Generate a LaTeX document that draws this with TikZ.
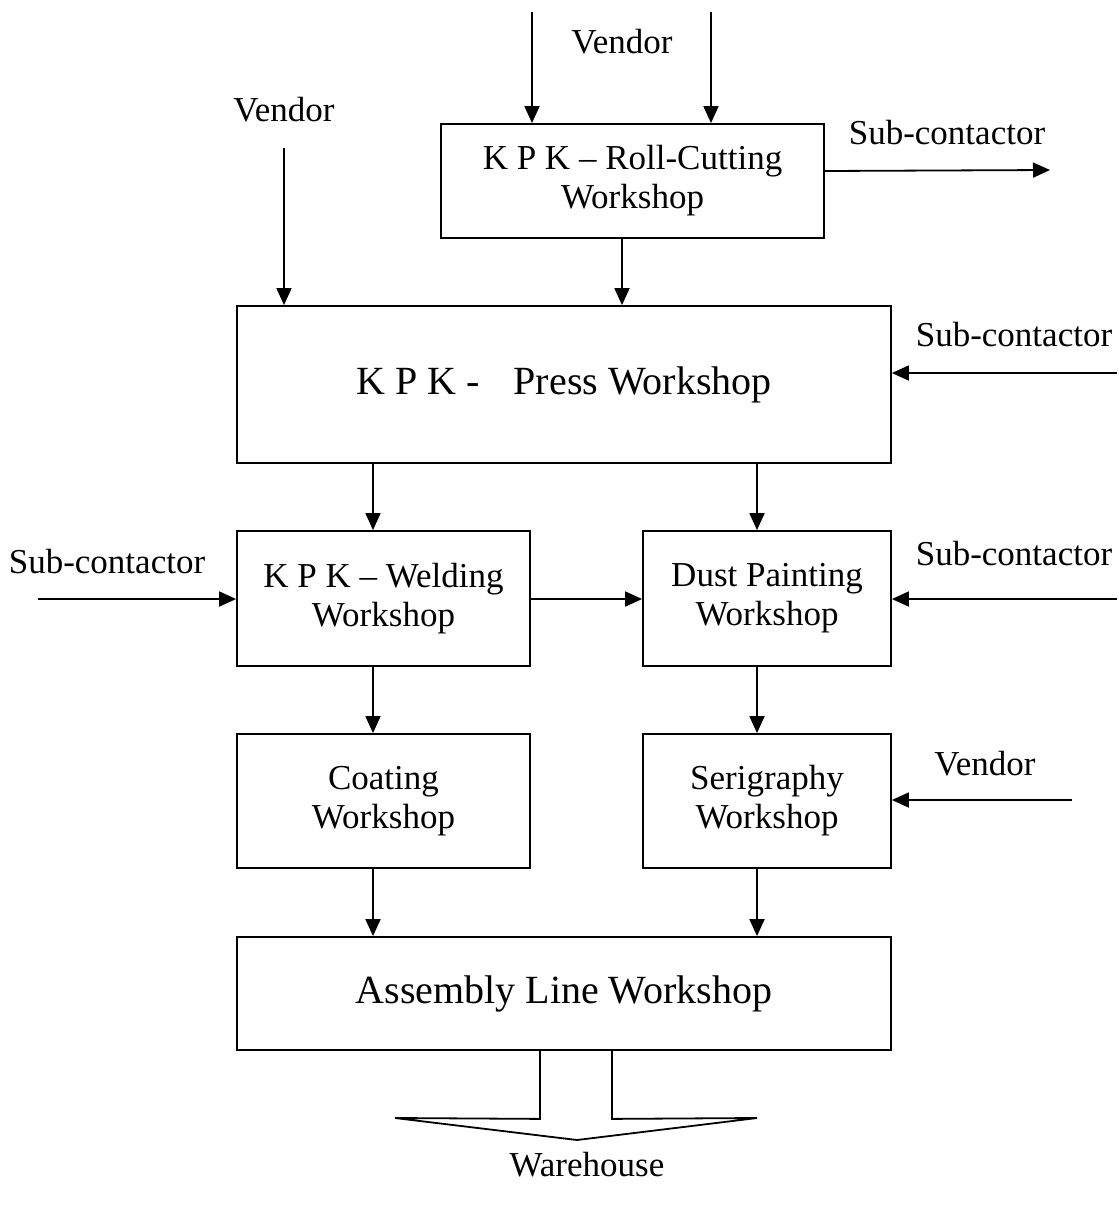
\documentclass[tikz,border=0pt]{standalone}
\usepackage{fontspec}
\setmainfont{Liberation Serif}
\usetikzlibrary{arrows.meta}
\begin{document}
\begin{tikzpicture}[x=1pt,y=-1pt,
  box/.style={draw, line width=1.8pt, align=center, inner sep=0pt,
    font=\fontsize{35}{39}\selectfont},
  bigbox/.style={box, font=\fontsize{40}{44}\selectfont},
  lbl/.style={inner sep=0pt, font=\fontsize{35}{39}\selectfont},
  arr/.style={line width=1.8pt, -{Triangle[length=17pt,width=15pt]}},
  line width=1.8pt]
\useasboundingbox (0,0) rectangle (1119,1208);

% workshops
\node[box, minimum width=383pt, minimum height=114pt] (roll) at (632.5,181)
  {K P K -- Roll-Cutting\\Workshop};
\node[bigbox, minimum width=654pt, minimum height=157pt] (press) at (564,384.5)
  {K P K -\hspace{0.6em} Press Workshop};
\node[box, minimum width=293pt, minimum height=135pt] (weld) at (383.5,598.5)
  {K P K -- Welding\\Workshop};
\node[box, minimum width=248pt, minimum height=135pt] (dust) at (767,598.5)
  {Dust Painting\\Workshop};
\node[box, minimum width=293pt, minimum height=134pt] (coat) at (383.5,801)
  {Coating\\Workshop};
\node[box, minimum width=248pt, minimum height=134pt] (seri) at (767,801)
  {Serigraphy\\Workshop};
\node[bigbox, minimum width=654pt, minimum height=113pt] (asm) at (564,993.5)
  {Assembly Line Workshop};

% outside labels
\node[lbl] (vtop) at (622,42) {Vendor};
\node[lbl] (vleft) at (284,110) {Vendor};
\node[lbl] (stop) at (947,133) {Sub-contactor};
\node[lbl] (spress) at (1014,335) {Sub-contactor};
\node[lbl] (sleft) at (107,562) {Sub-contactor};
\node[lbl] (sdust) at (1014,554) {Sub-contactor};
\node[lbl] (vseri) at (985,764) {Vendor};
\node[lbl] (wh) at (587,1165) {Warehouse};

% free ends of the outside flows
\coordinate (in1) at (532,12);
\coordinate (in2) at (711,12);
\coordinate (in3) at (284,148);
\coordinate (out1) at (1050,170);
\coordinate (in4) at (1117,373);
\coordinate (in5) at (38,599);
\coordinate (in6) at (1117,599);
\coordinate (in7) at (1072,800);

% inputs from vendors and sub-contractors
\draw[arr] (in1) -- (in1 |- roll.north);
\draw[arr] (in2) -- (in2 |- roll.north);
\draw[arr] (in3) -- (in3 |- press.north);
\draw[arr] ([yshift=10pt]roll.east) -- (out1);
\draw[arr] (in4) -- (in4 -| press.east);
\draw[arr] (in5) -- (in5 -| weld.west);
\draw[arr] (in6) -- (in6 -| dust.east);
\draw[arr] (in7) -- (in7 -| seri.east);

% internal flows
\draw[arr] ([xshift=-10.5pt]roll.south) -- ([xshift=-10.5pt]roll.south |- press.north);
\draw[arr] ([xshift=-10.5pt]weld.north |- press.south) -- ([xshift=-10.5pt]weld.north);
\draw[arr] ([xshift=-10pt]dust.north |- press.south) -- ([xshift=-10pt]dust.north);
\draw[arr] ([yshift=-0.5pt]weld.east) -- ([yshift=-0.5pt]dust.west);
\draw[arr] ([xshift=-10.5pt]weld.south) -- ([xshift=-10.5pt]coat.north);
\draw[arr] ([xshift=-10pt]dust.south) -- ([xshift=-10pt]seri.north);
\draw[arr] ([xshift=-10.5pt]coat.south) -- ([xshift=-10.5pt]coat.south |- asm.north);
\draw[arr] ([xshift=-10pt]seri.south) -- ([xshift=-10pt]seri.south |- asm.north);

% hollow block arrow towards the warehouse
\draw[line width=1.8pt, line join=miter]
  ([xshift=-24pt]asm.south) -- ++(0,68) -- (395,1118) -- (577,1140)
  -- (757,1118) -- ([xshift=48pt,yshift=-68pt]asm.south) -- ([xshift=48pt]asm.south);
\end{tikzpicture}
\end{document}
